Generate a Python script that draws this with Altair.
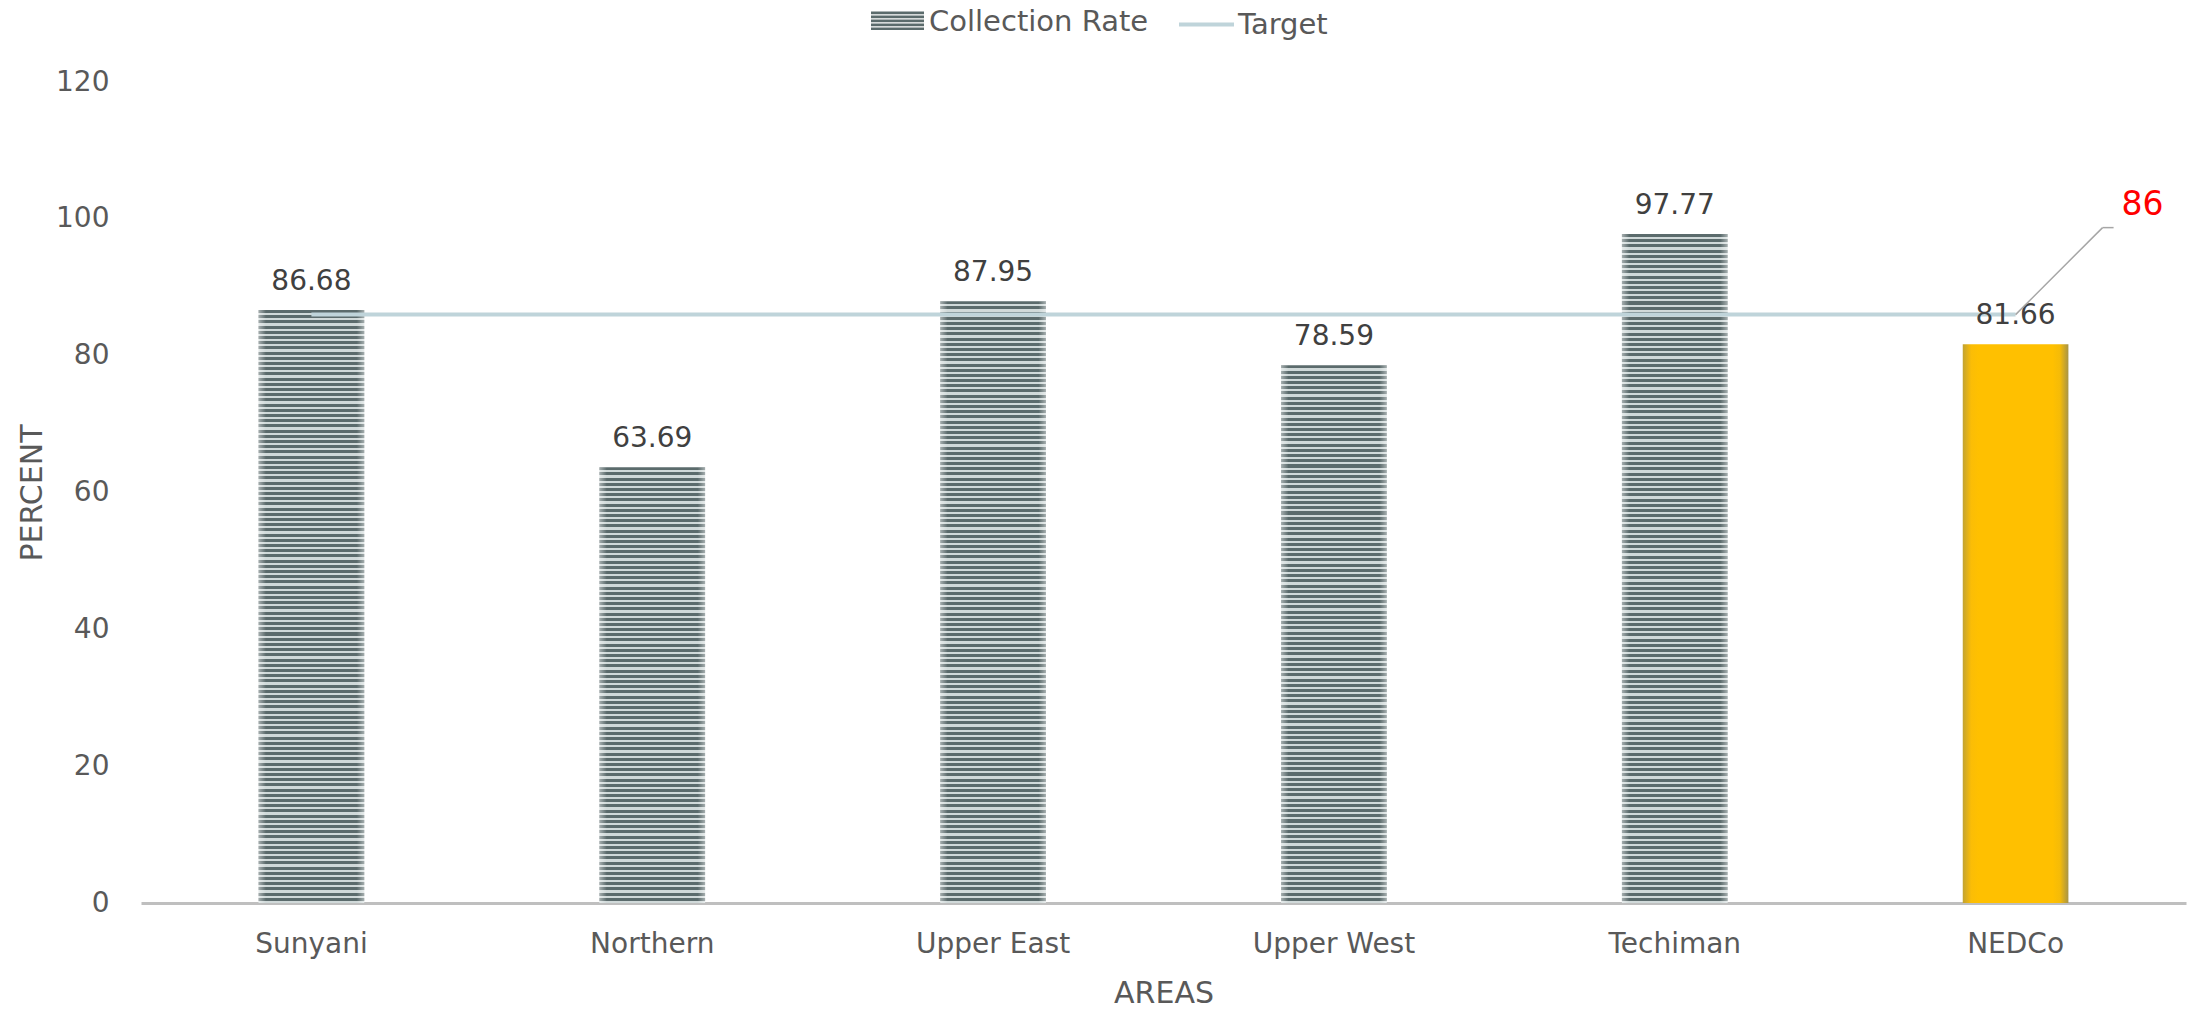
import altair as alt
import pandas as pd

# ---- data ----
areas = ["Sunyani", "Northern", "Upper East", "Upper West", "Techiman", "NEDCo"]
collection_rate = [86.68, 63.69, 87.95, 78.59, 97.77, 81.66]
target = [86, 86, 86, 86, 86, 86]
series_bar = "Collection Rate"
series_line = "Target"

df = pd.DataFrame({"area": areas, "rate": collection_rate, "target": target})
df["series"] = series_bar
df["tseries"] = series_line

# ---- styling ----
FONT = "DejaVu Sans"
DARK = "#5b6b6c"
LIGHT = "#d0d9d9"
AXIS_GREY = "#595959"
W, H = 2045, 821
PX_PER_UNIT = H / 120.0
STRIPE_PX = 5.2


def stripe_gradient(value):
    n = max(1, round(value * PX_PER_UNIT / STRIPE_PX))
    stops = []
    for i in range(n):
        a, b, c = i / n, (i + 0.58) / n, (i + 1) / n
        stops += [
            {"offset": a, "color": DARK},
            {"offset": b, "color": DARK},
            {"offset": b, "color": LIGHT},
            {"offset": c, "color": LIGHT},
        ]
    return {"gradient": "linear", "x1": 0, "y1": 0, "x2": 0, "y2": 1, "stops": stops}


edge_fade = {
    "gradient": "linear", "x1": 0, "y1": 0, "x2": 1, "y2": 0,
    "stops": [
        {"offset": 0, "color": "rgba(255,255,255,0.45)"},
        {"offset": 0.07, "color": "rgba(255,255,255,0)"},
        {"offset": 0.93, "color": "rgba(255,255,255,0)"},
        {"offset": 1, "color": "rgba(255,255,255,0.45)"},
    ],
}

gold = {
    "gradient": "linear", "x1": 0, "y1": 0, "x2": 1, "y2": 0,
    "stops": [
        {"offset": 0, "color": "#c2a332"},
        {"offset": 0.08, "color": "#fbbd06"},
        {"offset": 0.15, "color": "#ffc000"},
        {"offset": 0.85, "color": "#ffc000"},
        {"offset": 0.92, "color": "#f5bb08"},
        {"offset": 1, "color": "#a89446"},
    ],
}

x_enc = alt.X(
    "area:N",
    sort=areas,
    scale=alt.Scale(domain=areas, paddingInner=0.69, paddingOuter=0.345),
    axis=alt.Axis(
        title="AREAS", labelAngle=0, domain=True, domainColor="#bfbfbf",
        domainWidth=3, ticks=False, tickSize=0, labelPadding=27,
        titlePadding=20,
    ),
)
y_enc = alt.Y(
    "rate:Q",
    scale=alt.Scale(domain=[0, 120]),
    axis=alt.Axis(
        title="PERCENT", values=[0, 20, 40, 60, 80, 100, 120], grid=False,
        domain=False, ticks=False, tickSize=0, labelPadding=32, titlePadding=8,
    ),
)

base = alt.Chart(df)

layers = []
for a, v in zip(areas, collection_rate):
    if a == "NEDCo":
        fill = gold
    else:
        fill = stripe_gradient(v)
    layers.append(
        base.transform_filter(alt.datum.area == a)
        .mark_bar(fill=fill, strokeWidth=0)
        .encode(x=x_enc, y=y_enc)
    )

# soft edges on striped bars
layers.append(
    base.transform_filter(alt.datum.area != "NEDCo")
    .mark_bar(fill=edge_fade, strokeWidth=0)
    .encode(x=x_enc, y=y_enc)
)

# legend carrier for bars (empty data, explicit domain)
stripe_path = " ".join(
    f"M-1,{-0.375 + 0.15 * k:.3f}H1V{-0.375 + 0.15 * k + 0.1:.3f}H-1Z" for k in range(5)
)
layers.append(
    base.transform_filter("false")
    .mark_bar()
    .encode(
        x=x_enc, y=y_enc,
        fill=alt.Fill(
            "series:N",
            scale=alt.Scale(domain=[series_bar], range=[DARK]),
            legend=alt.Legend(
                title=None, orient="none", legendX=730, legendY=-87,
                symbolType=stripe_path, symbolSize=2809, symbolStrokeWidth=0,
                symbolOpacity=1, labelFont=FONT, labelFontSize=29,
                labelColor=AXIS_GREY, labelOffset=5, padding=0, labelLimit=0,
            ),
        ),
    )
)

# target line
layers.append(
    base.mark_line(strokeWidth=4)
    .encode(
        x=x_enc,
        y=alt.Y("target:Q"),
        stroke=alt.Stroke(
            "tseries:N",
            scale=alt.Scale(domain=[series_line], range=["#bfd4da"]),
            legend=alt.Legend(
                title=None, orient="none", legendX=1036, legendY=-87,
                symbolType="stroke", symbolSize=3025, symbolStrokeWidth=4,
                labelFont=FONT, labelFontSize=29, labelColor=AXIS_GREY,
                labelOffset=2, padding=0, labelLimit=0,
            ),
        ),
    )
)

# value labels
layers.append(
    base.mark_text(dy=-20, baseline="alphabetic", align="center", fontSize=28,
                   font=FONT, color="#404040")
    .encode(x=x_enc, y=y_enc, text=alt.Text("rate:Q", format=".2f"))
)

# target annotation
nedco = base.transform_filter(alt.datum.area == "NEDCo")
layers.append(
    nedco.mark_rule(color="#a6a6a6", strokeWidth=1.5, x2Offset=87, y2Offset=-87)
    .encode(x=alt.X("area:N", bandPosition=0.5), x2="area:N",
            y=alt.Y("target:Q"), y2="target:Q")
)
layers.append(
    nedco.mark_rule(color="#a6a6a6", strokeWidth=1.5, xOffset=87, x2Offset=98,
                    yOffset=-87, y2Offset=-87)
    .encode(x=alt.X("area:N", bandPosition=0.5), x2="area:N",
            y=alt.Y("target:Q"), y2="target:Q")
)
layers.append(
    nedco.mark_text(dx=127, dy=-110, align="center", baseline="middle",
                    fontSize=33, font=FONT, color="#ff0000")
    .encode(x=alt.X("area:N"), y=alt.Y("target:Q"),
            text=alt.Text("target:Q", format="d"))
)

chart = (
    alt.layer(*layers)
    .properties(
        width=W, height=H,
        padding={"left": 141, "top": 82, "right": 8, "bottom": 106},
        autosize=alt.AutoSizeParams(type="none"),
        background="white",
    )
    .configure_view(stroke=None)
    .configure_axis(
        labelFont=FONT, labelFontSize=28, labelColor=AXIS_GREY,
        titleFont=FONT, titleFontSize=30, titleColor=AXIS_GREY,
        titleFontWeight="normal",
    )
)

chart.save("out.html", embed_options={"renderer": "svg", "actions": False})
